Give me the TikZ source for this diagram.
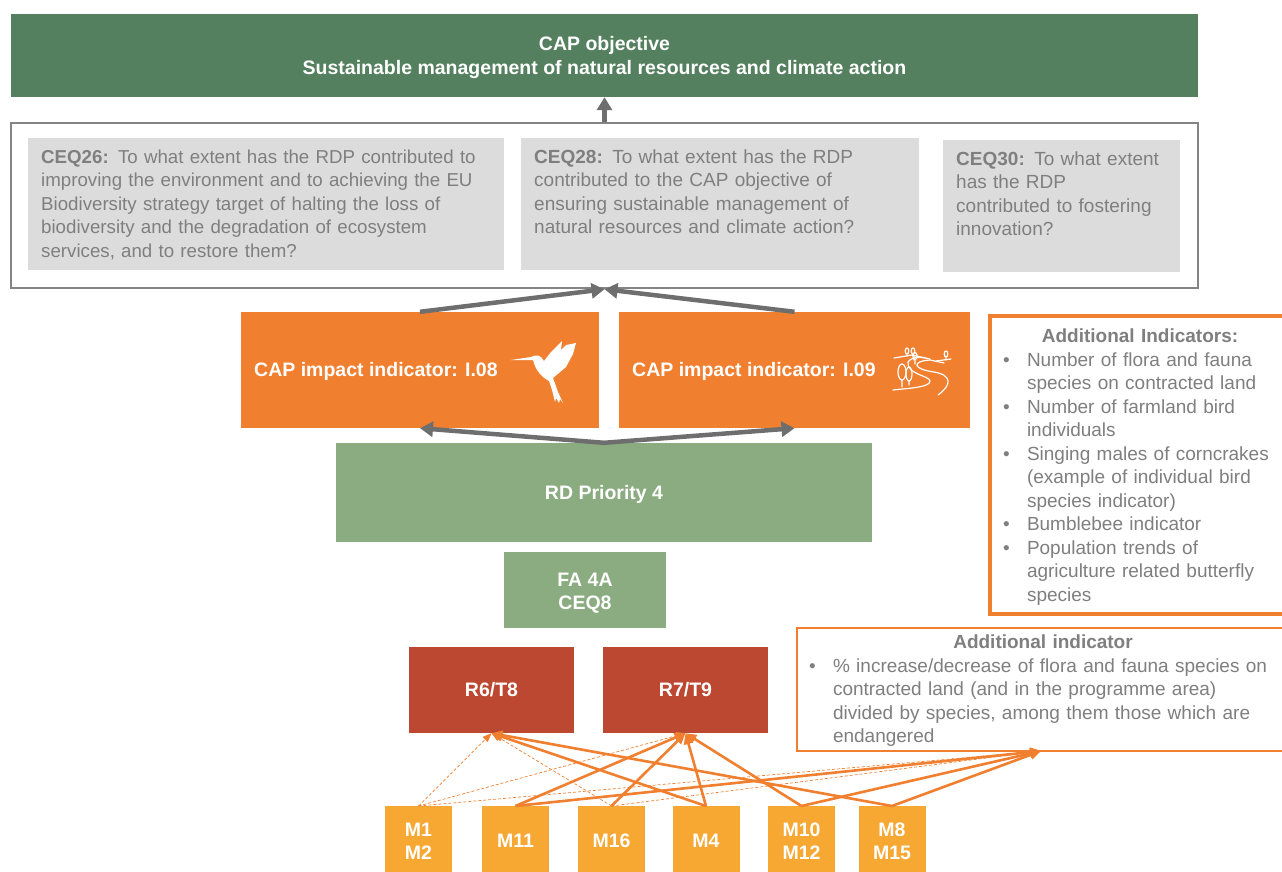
\documentclass[tikz,border=0pt]{standalone}
\usepackage{fontspec}
\setmainfont{Liberation Sans}
\usetikzlibrary{arrows.meta}
\definecolor{topgreen}{HTML}{54805F}
\definecolor{lightgreen}{HTML}{8BAC80}
\definecolor{impactorange}{HTML}{F07F2F}
\definecolor{resultred}{HTML}{BC4831}
\definecolor{measureyellow}{HTML}{F7A833}
\definecolor{ceqgrey}{HTML}{DCDCDC}
\definecolor{textgrey}{HTML}{7F7F7F}
\definecolor{arrowgrey}{HTML}{6E6E6E}
\newcommand{\bul}{\makebox[35pt][l]{\hspace{11pt}•}}
\newcommand{\nobul}{\makebox[35pt]{}}
\tikzset{
    txt/.style={font=\fontsize{19}{23.5}\selectfont},
    whitebox/.style={text=white,inner sep=0pt,align=center,font=\fontsize{19.5}{23.5}\selectfont\bfseries},
    ceqbox/.style={txt,fill=ceqgrey,text=textgrey,anchor=north west,align=left,inner xsep=13pt,inner ysep=12pt,text height=13pt},
    addbox/.style={txt,fill=white,draw=impactorange,text=textgrey,anchor=north west,align=left,inner ysep=0pt,outer sep=0pt},
    measure/.style={whitebox,fill=measureyellow,minimum width=67pt,minimum height=70pt,anchor=north},
    greyarrow/.style={-{Triangle[length=13pt,width=15pt]},line width=4.5pt,draw=arrowgrey},
    strong/.style={-{Triangle[length=11pt,width=9pt]},line width=2.6pt,draw=impactorange},
    weak/.style={-{Triangle[length=9pt,width=7pt]},line width=.7pt,densely dashed,draw=impactorange}
}
\begin{document}
\begin{tikzpicture}[x=1pt,y=-1pt]
    \useasboundingbox (0,0) rectangle (1282,872);

    \node[whitebox,fill=topgreen,minimum width=1187pt,minimum height=83pt] (objective) at (604.5,55.5)
        {\rule{0pt}{18pt}CAP objective\\Sustainable management of natural resources and climate action};

    \node[draw=arrowgrey!85,line width=2.5pt,inner sep=0pt,minimum width=1187pt,minimum height=165pt] (ceqframe) at (604.5,205.5) {};
    \node[ceqbox,text width=450pt,text depth=95pt,font=\fontsize{18.7}{23.5}\selectfont] (ceq26) at (28,138)
        {\textbf{CEQ26:} To what extent has the RDP contributed to\\improving the environment and to achieving the EU\\Biodiversity strategy target of halting the loss of\\biodiversity and the degradation of ecosystem\\services, and to restore them?};
    \node[ceqbox,text width=372pt,text depth=95pt] (ceq28) at (521,138)
        {\textbf{CEQ28:} To what extent has the RDP\\contributed to the CAP objective of\\ensuring sustainable management of\\natural resources and climate action?};
    \node[ceqbox,text width=211pt,text depth=95pt] (ceq30) at (943,140)
        {\textbf{CEQ30:} To what extent\\has the RDP\\contributed to fostering\\innovation?};

    \node[whitebox,fill=impactorange,minimum width=358pt,minimum height=116pt] (impact08) at (420,370) {};
    \node[whitebox,fill=impactorange,minimum width=351pt,minimum height=116pt] (impact09) at (794.5,370) {};
    \node[whitebox,anchor=west] (label08) at (254,371) {CAP impact indicator: I.08};
    \node[whitebox,anchor=west] (label09) at (632,371) {CAP impact indicator: I.09};

    % hummingbird
    \fill[white] (511,360) -- (531,357) .. controls (536,354) and (541,355) .. (544,361)
        -- (551,352) -- (562,341) -- (561,350) -- (566,345) -- (576,343) -- (573,354) -- (566,367) -- (553,378)
        -- (558,392) -- (563,403) -- (560,399) -- (559,403) -- (556,398) -- (555,402) -- (552,390) -- (549,381)
        .. controls (541,377) and (535,369) .. (533,360) -- cycle;

    % landscape
    \begin{scope}[draw=white,line width=1.2pt,line cap=round]
        \draw (938,395) .. controls (952,385) and (952,375) .. (934,372) .. controls (912,369) and (912,361) .. (930,360) -- (944,363);
        \draw (893,390) .. controls (912,388) and (930,387) .. (930,381) .. controls (930,376) and (906,374) .. (908,362) .. controls (910,358) and (918,356) .. (925,358);
        \draw (894,358) -- (912,355) -- (930,359) (936,361) -- (951,359);
        \draw (902,372) ellipse (4pt and 8pt) (902,380) -- (902,387);
        \draw (909,374) ellipse (3pt and 7pt) (909,381) -- (909,385);
        \draw (907,351) ellipse (1.8pt and 3pt) (907,354) -- (907,356);
        \draw (913,351) ellipse (1.8pt and 3pt) (913,354) -- (913,356);
        \draw (914,356) -- (914,360) (946,354) ellipse (1.8pt and 3pt) (946,357) -- (946,360);
        \draw (915,356) ellipse (2.2pt and 3.5pt) (915,360) -- (915,364);
    \end{scope}

    \node[whitebox,fill=lightgreen,minimum width=536pt,minimum height=99pt] (priority) at (604,492.5) {\rule{0pt}{18pt}RD Priority 4};
    \node[whitebox,fill=lightgreen,minimum width=162pt,minimum height=76pt] (fa) at (585,590) {\rule{0pt}{20pt}FA 4A\\CEQ8};
    \node[whitebox,fill=resultred,minimum width=165pt,minimum height=86pt] (r6) at (491.5,690) {R6/T8};
    \node[whitebox,fill=resultred,minimum width=165pt,minimum height=86pt] (r7) at (685.5,690) {R7/T9};

    \node[addbox,inner xsep=2pt,line width=3.5pt,text width=310pt,minimum height=298pt,text height=18pt] (addone) at (990,316)
        {\makebox[296pt][c]{\textbf{Additional Indicators:}}\\
        \bul Number of flora and fauna\\\nobul species on contracted land\\
        \bul Number of farmland bird\\\nobul individuals\\
        \bul Singing males of corncrakes\\\nobul (example of individual bird\\\nobul species indicator)\\
        \bul Bumblebee indicator\\
        \bul Population trends of\\\nobul agriculture related butterfly\\\nobul species};
    \node[addbox,inner xsep=0pt,line width=2pt,text width=500pt,minimum height=123pt,text height=16pt] (addtwo) at (797,628)
        {\makebox[492pt][c]{\textbf{Additional indicator}}\\
        \makebox[36pt][l]{\hspace{12pt}•}\% increase/decrease of flora and fauna species on\\
        \makebox[36pt]{}contracted land (and in the programme area)\\
        \makebox[36pt]{}divided by species, among them those which are\\
        \makebox[36pt]{}endangered};
    \coordinate (addin) at (1041,751);

    \foreach \name/\x/\txt in {m1/418.5/{M1\\M2},m11/515.5/M11,m16/611.5/M16,m4/706/M4,m10/801.5/{M10\\M12},m8/892/{M8\\M15}}
        \node[measure] (\name) at (\x,806) {\txt};

    \draw[greyarrow] (ceqframe.north) -- (objective.south);
    \draw[greyarrow] (impact08.north) -- (ceqframe.south);
    \draw[greyarrow] (impact09.north) -- (ceqframe.south);
    \draw[greyarrow] (priority.north) -- (impact08.south);
    \draw[greyarrow] (priority.north) -- (impact09.south);

    \foreach \a/\b in {m1/r6,m1/r7,m1/addin,m16/r6,m16/addin}
        \draw[weak] (\a.north) -- (\b.south);
    \foreach \a/\b in {m11/r7,m16/r7,m4/r6,m4/r7,m10/r7,m8/r6}
        \draw[strong] (\a.north) -- (\b.south);
    \foreach \a in {m11,m10,m8}
        \draw[strong] (\a.north) -- (addin);
\end{tikzpicture}
\end{document}
